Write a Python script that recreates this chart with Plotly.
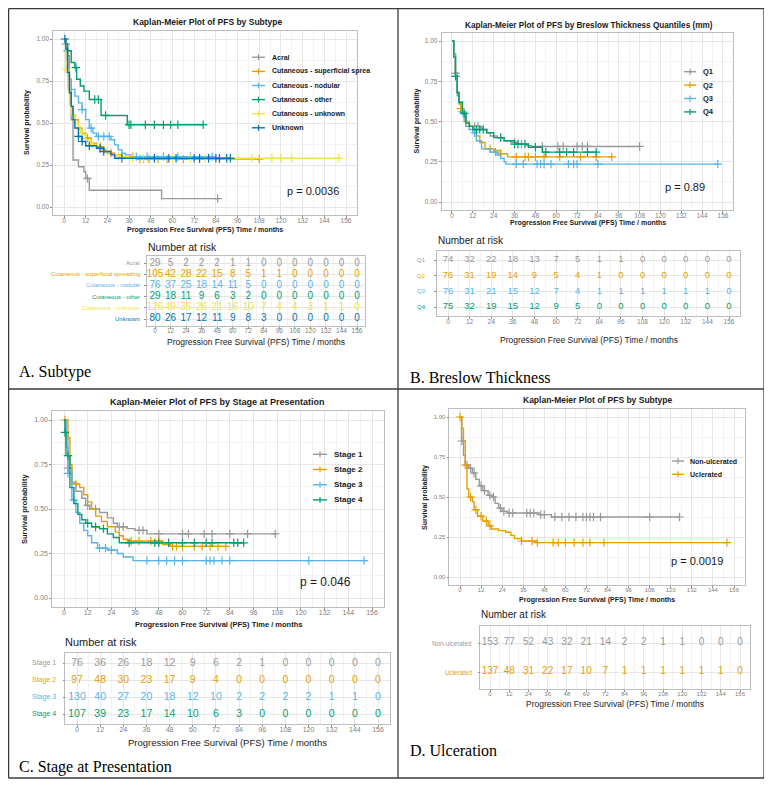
import numpy as np
import plotly.graph_objects as go

W, H = 772, 786
OFF = 8                      # page body margin of the browser
FW, FH = W - OFF, H - OFF
FONT = "Liberation Sans"
SERIF = "Liberation Serif"

GREY = "#999999"
ORANGE = "#E69F00"
SKY = "#56B4E9"
GREEN = "#009E73"
YELLOW = "#F0E442"
BLUE = "#0072B2"

risk_times = [0, 12, 24, 36, 48, 60, 72, 84, 96, 108, 120, 132, 144, 156]

# ---- A. Subtype
a_labels = ["Acral", "Cutaneous - superficial spreading", "Cutaneous - nodular",
            "Cutaneous - other", "Cutaneous - unknown", "Unknown"]
a_legend = ["Acral", "Cutaneous - superficial sprea", "Cutaneous - nodular",
            "Cutaneous - other", "Cutaneous - unknown", "Unknown"]
a_colors = [GREY, ORANGE, SKY, GREEN, YELLOW, BLUE]

acral_t = [0, 1, 2, 3, 4, 5, 8, 11, 12, 14, 54, 85]
acral_s = [1.0, 0.97, 0.90, 0.76, 0.52, 0.28, 0.24, 0.21, 0.17, 0.10, 0.05, 0.05]
acral_c = [1, 13, 85]
sup_t = [0, 1, 2, 3, 4, 5, 6, 8, 10, 12, 15, 18, 21, 24, 28, 32, 40, 108]
sup_s = [1.0, 0.92, 0.80, 0.68, 0.59, 0.55, 0.52, 0.47, 0.44, 0.41, 0.38, 0.36, 0.34, 0.32,
         0.31, 0.30, 0.285, 0.285]
sup_c = [6, 13, 20, 26, 38, 42, 44, 47, 52, 57, 66, 75, 86, 108]
nod_t = [0, 1, 2, 3, 6, 8, 10, 12, 14, 16, 18, 26, 28, 30, 32, 34, 38, 82]
nod_s = [1.0, 0.88, 0.78, 0.70, 0.66, 0.62, 0.58, 0.52, 0.47, 0.44, 0.42, 0.40, 0.37, 0.34,
         0.32, 0.31, 0.30, 0.30]
nod_c = [10, 15, 19, 22, 25, 40, 46, 55, 63, 70, 82]
oth_t = [0, 1, 2, 4, 6, 7, 9, 11, 14, 20.5, 35, 77]
oth_s = [1.0, 0.97, 0.93, 0.86, 0.83, 0.76, 0.72, 0.69, 0.64, 0.545, 0.49, 0.49]
oth_c = [2, 6.6, 17, 19, 23, 36, 37, 45, 50, 55, 59, 63, 77]
cun_t = [0, 1, 2, 3, 4, 6, 8, 10, 12, 15, 18, 22, 26, 30, 36, 152]
cun_s = [1.0, 0.82, 0.70, 0.61, 0.55, 0.50, 0.46, 0.43, 0.40, 0.37, 0.35, 0.33, 0.31, 0.30,
         0.29, 0.29]
cun_c = [1, 9, 16, 24, 30, 38, 44, 50, 60, 70, 78, 96, 104, 115, 120, 126, 152]
unk_t = [0, 1, 2, 3, 4, 5, 6, 8, 10, 12, 18, 22, 26, 28, 92]
unk_s = [1.0, 0.94, 0.80, 0.68, 0.60, 0.52, 0.47, 0.42, 0.39, 0.365, 0.35, 0.33, 0.31, 0.29, 0.29]
unk_c = [0.5, 8, 10, 14, 20, 22, 32, 50, 58, 62, 72, 75, 80, 84, 86, 90, 92]

a_risk_acral = [29, 5, 2, 2, 2, 1, 1, 0, 0, 0, 0, 0, 0, 0]
a_risk_sup = [105, 42, 28, 22, 15, 8, 5, 1, 1, 0, 0, 0, 0, 0]
a_risk_nod = [76, 37, 25, 18, 14, 11, 5, 0, 0, 0, 0, 0, 0, 0]
a_risk_oth = [29, 18, 11, 9, 6, 3, 2, 0, 0, 0, 0, 0, 0, 0]
a_risk_cun = [126, 49, 35, 26, 21, 16, 10, 7, 4, 4, 3, 1, 1, 0]
a_risk_unk = [80, 26, 17, 12, 11, 9, 8, 3, 0, 0, 0, 0, 0, 0]

# ---- B. Breslow thickness
b_labels = ["Q1", "Q2", "Q3", "Q4"]
b_colors = [GREY, ORANGE, SKY, GREEN]
q1_t = [0, 1, 2, 3, 4, 5, 7, 8, 16, 18, 20, 22, 26, 30, 34, 38, 42, 46, 108]
q1_s = [1.0, 0.92, 0.80, 0.66, 0.61, 0.56, 0.50, 0.47, 0.46, 0.45, 0.43, 0.41, 0.40, 0.38,
        0.37, 0.36, 0.35, 0.345, 0.345]
q1_c = [2, 10, 13, 15, 28, 36, 40, 52, 61, 64, 72, 75, 78, 108]
q2_t = [0, 1, 2, 3, 4, 5, 6, 8, 10, 12, 14, 16, 19, 24, 28, 32, 92]
q2_s = [1.0, 0.92, 0.80, 0.68, 0.61, 0.58, 0.55, 0.50, 0.47, 0.45, 0.41, 0.37, 0.33, 0.32,
        0.30, 0.28, 0.28]
q2_c = [5, 22, 28, 37, 42, 44, 48, 53, 62, 74, 83, 92]
q3_t = [0, 1, 2, 3, 4, 6, 8, 10, 12, 14, 17, 22, 26, 28, 30, 31, 153]
q3_s = [1.0, 0.92, 0.80, 0.68, 0.62, 0.56, 0.49, 0.45, 0.43, 0.38, 0.33, 0.31, 0.29, 0.27,
        0.25, 0.235, 0.235]
q3_c = [6, 13, 25, 37, 41, 49, 51, 53, 57, 67, 70, 72, 84, 153]
q4_t = [0, 1, 2, 3, 4, 6, 8, 10, 12, 20, 24, 30, 36, 44, 52, 83]
q4_s = [1.0, 0.90, 0.78, 0.68, 0.62, 0.55, 0.49, 0.47, 0.45, 0.43, 0.40, 0.38, 0.36, 0.34,
        0.31, 0.31]
q4_c = [2, 7, 14, 16, 18, 28, 36, 38, 42, 48, 54, 62, 66, 70, 78, 83]

b_risk_q1 = [74, 32, 22, 18, 13, 7, 5, 1, 1, 0, 0, 0, 0, 0]
b_risk_q2 = [76, 31, 19, 14, 9, 5, 4, 1, 0, 0, 0, 0, 0, 0]
b_risk_q3 = [76, 31, 21, 15, 12, 7, 4, 1, 1, 1, 1, 1, 1, 0]
b_risk_q4 = [75, 32, 19, 15, 12, 9, 5, 0, 0, 0, 0, 0, 0, 0]

# ---- C. Stage at presentation
c_labels = ["Stage 1", "Stage 2", "Stage 3", "Stage 4"]
c_colors = [GREY, ORANGE, SKY, GREEN]
s1_t = [0, 1, 2, 4, 6, 9, 11, 13, 18, 22, 25, 27, 32, 36, 42, 107]
s1_s = [1.0, 0.93, 0.73, 0.65, 0.60, 0.56, 0.52, 0.50, 0.48, 0.45, 0.42, 0.40, 0.39, 0.38,
        0.36, 0.36]
s1_c = [2, 12, 16, 28, 30, 38, 40, 48, 60, 63, 71, 75, 84, 93, 107]
s2_t = [0, 2, 3, 4, 8, 10, 12, 14, 16, 19, 22, 26, 28, 30, 32, 50, 54, 82]
s2_s = [1.0, 0.90, 0.75, 0.64, 0.62, 0.58, 0.54, 0.50, 0.46, 0.43, 0.40, 0.37, 0.35, 0.33,
        0.32, 0.30, 0.29, 0.29]
s2_c = [0.5, 6, 34, 38, 44, 48, 55, 57, 60, 66, 70, 74, 78, 82]
s3_t = [0, 1, 2, 4, 6, 8, 10, 12, 14, 17, 22, 27, 30, 35, 152]
s3_s = [1.0, 0.85, 0.70, 0.55, 0.48, 0.42, 0.38, 0.35, 0.31, 0.28, 0.27, 0.25, 0.23, 0.21, 0.21]
s3_c = [2, 5, 18, 21, 24, 42, 48, 52, 56, 60, 72, 74, 76, 80, 84, 124, 152]
s4_t = [0, 0.5, 1, 3, 5, 7, 9, 11, 14, 18, 22, 25, 28, 91]
s4_s = [1.0, 0.93, 0.80, 0.62, 0.53, 0.47, 0.44, 0.42, 0.40, 0.39, 0.36, 0.34, 0.31, 0.31]
s4_c = [0.5, 2, 12, 16, 20, 33, 46, 48, 53, 60, 66, 72, 75, 86, 88, 91]

c_risk_s1 = [76, 36, 26, 18, 12, 9, 6, 2, 1, 0, 0, 0, 0, 0]
c_risk_s2 = [97, 48, 30, 23, 17, 9, 4, 0, 0, 0, 0, 0, 0, 0]
c_risk_s3 = [130, 40, 27, 20, 18, 12, 10, 2, 2, 2, 2, 1, 1, 0]
c_risk_s4 = [107, 39, 23, 17, 14, 10, 6, 3, 0, 0, 0, 0, 0, 0]

# ---- D. Ulceration
d_labels = ["Non-ulcerated", "Uclerated"]
d_colors = [GREY, ORANGE]
nu_t = [0, 1, 2, 3, 5, 7, 9, 11, 13, 16, 18, 20, 22, 24, 27, 45, 52, 125]
nu_s = [1.0, 0.85, 0.76, 0.70, 0.68, 0.65, 0.61, 0.57, 0.54, 0.51, 0.50, 0.46, 0.43, 0.41,
        0.40, 0.39, 0.375, 0.375]
nu_c = [1, 4, 6, 8, 12, 14, 17, 19, 23, 25, 28, 30, 38, 40, 42, 46, 48, 54, 58, 62, 66, 70,
        72, 74, 76, 80, 108, 125]
ul_t = [0, 1, 2, 3, 4, 5, 7, 8, 10, 13, 16, 18, 22, 26, 29, 31, 35, 44, 152]
ul_s = [1.0, 0.93, 0.85, 0.70, 0.55, 0.50, 0.47, 0.42, 0.38, 0.35, 0.32, 0.30, 0.29, 0.28,
        0.26, 0.24, 0.225, 0.215, 0.215]
ul_c = [0, 3, 6, 9, 12, 15, 17, 35, 41, 44, 53, 56, 60, 65, 70, 74, 82, 152]

d_risk_nu = [153, 77, 52, 43, 32, 21, 14, 2, 2, 1, 1, 0, 0, 0]
d_risk_ul = [137, 48, 31, 22, 17, 10, 7, 1, 1, 1, 1, 1, 1, 0]

p_values = ["p = 0.0036", "p = 0.89", "p = 0.046", "p = 0.0019"]
titles = ["Kaplan-Meier Plot of PFS by Subtype",
          "Kaplan-Meier Plot of PFS by Breslow Thickness Quantiles (mm)",
          "Kaplan-Meier Plot of PFS by Stage at Presentation",
          "Kaplan-Meier Plot of PFS by Subtype"]
panel_names = ["A. Subtype", "B. Breslow Thickness", "C. Stage at Presentation", "D. Ulceration"]
x_title = "Progression Free Survival (PFS) Time / months"


# screen pixel -> paper fraction (the figure sits OFF px in from the page corner)
def px(x):
    return (x - OFF) / FW


def py(y):
    return 1 - (y - OFF) / FH


ann = []
shp = []


def text(s, x, y, size, color="#1A1A1A", bold=False, xanchor="center", family=FONT, angle=0):
    if bold:
        s = "<b>" + s + "</b>"
    ann.append(dict(text=s, x=px(x), y=py(y), xref="paper", yref="paper", xanchor=xanchor,
                    yanchor="middle", showarrow=False, textangle=angle,
                    font=dict(family=family, size=size, color=color)))


def seg(x0, y0, x1, y1, color, width):
    shp.append(dict(type="line", xref="paper", yref="paper", x0=px(x0), x1=px(x1),
                    y0=py(y0), y1=py(y1), line=dict(color=color, width=width)))


fig = go.Figure()
layout = {}

GRID = dict(showgrid=True, gridcolor="#E6E6E6", gridwidth=0.6, zeroline=False,
            showline=True, mirror=True, linecolor="#BDBDBD", linewidth=0.6,
            ticks="outside", ticklen=2, tickwidth=0.6, tickcolor="#8C8C8C")
MINOR = dict(showgrid=True, gridcolor="#F3F3F3", gridwidth=0.4)


def panel(k, curves, risks, labels, legend, colors, geo):
    ip, it = 2 * k + 1, 2 * k + 2
    sp_ = "" if ip == 1 else str(ip)
    xp, yp = "x" + sp_, "y" + sp_
    xt, yt = "x" + str(it), "y" + str(it)

    # survival plot
    x0, x156, y1, y0 = geo["plot"]
    u = (x156 - x0) / 156
    uy = y0 - y1
    tf = dict(family=FONT, size=geo["tick"], color="#808080")
    layout["xaxis" + sp_] = dict(
        GRID, domain=[px(x0 - 6 * u), px(x156 + 6 * u)], range=[-6, 162], anchor=yp,
        tick0=0, dtick=12, minor=dict(MINOR, dtick=6), tickfont=tf, ticklabelstandoff=-3)
    layout["yaxis" + sp_] = dict(
        GRID, domain=[py(y0 + 0.05 * uy), py(y1 - 0.05 * uy)], range=[-0.05, 1.05], anchor=xp,
        tick0=0, dtick=0.25, tickformat=".2f", minor=dict(MINOR, dtick=0.125), tickfont=tf)
    for (t, s, c), col in zip(curves, colors):
        fig.add_trace(go.Scatter(x=t, y=s, mode="lines", line=dict(color=col, width=1.4, shape="hv"),
                                 xaxis=xp, yaxis=yp, showlegend=False, hoverinfo="skip"))
        idx = np.searchsorted(t, c, side="right") - 1
        fig.add_trace(go.Scatter(x=c, y=np.asarray(s)[idx], mode="markers",
                                 marker=dict(symbol="cross-thin", size=6, line=dict(color=col, width=1.2)),
                                 xaxis=xp, yaxis=yp, showlegend=False, hoverinfo="skip"))

    cx, cy, ts = geo["title"]
    text(titles[k], cx, cy, ts, bold=True)
    text(x_title, (x0 + x156) / 2, geo["xtitle"], geo["axis"], bold=True)
    text("Survival probability", geo["ylab"], (y0 + y1) / 2, geo["axis"], bold=True, angle=-90)
    lx0, lx1, tx, ly, dy, ls = geo["legend"]
    for i, (lab, col) in enumerate(zip(legend, colors)):
        yy = ly + i * dy
        seg(lx0, yy, lx1, yy, col, 1.4)
        seg((lx0 + lx1) / 2, yy - 3, (lx0 + lx1) / 2, yy + 3, col, 1.2)
        text(lab, tx, yy, ls, bold=True, xanchor="left")
    text(p_values[k], geo["p"][0], geo["p"][1], geo["psize"])

    # risk table
    t0, t156 = geo["table_x"]
    r0, rl = geo["table_rows"]
    n = len(risks)
    ut = (t156 - t0) / 156
    sp = (rl - r0) / (n - 1)
    layout["xaxis" + str(it)] = dict(
        GRID, domain=[px(t0 - 6 * ut), px(t156 + 6 * ut)], range=[-6, 162], anchor=yt,
        tick0=0, dtick=12, minor=dict(MINOR, dtick=6), tickfont=tf, ticklabelstandoff=-3)
    layout["yaxis" + str(it)] = dict(
        GRID, domain=[py(rl + 0.6 * sp), py(r0 - 0.6 * sp)], range=[0.4, n + 0.6], anchor=xt,
        tickvals=list(range(1, n + 1)), ticktext=[""] * n)
    for i, (row, col) in enumerate(zip(risks, colors)):
        fig.add_trace(go.Scatter(x=risk_times, y=[n - i] * len(risk_times), mode="text",
                                 text=[str(v) for v in row],
                                 textfont=dict(family=FONT, size=geo["num"], color=col),
                                 xaxis=xt, yaxis=yt, showlegend=False, hoverinfo="skip"))
        text(labels[i], geo["rowlab"], r0 + i * sp, geo["rowsize"], color=col, xanchor="right")
    text("Number at risk", geo["nar"][0], geo["nar"][1], geo["nar"][2], xanchor="left")
    text(x_title, (t0 + t156) / 2, geo["ttitle"], geo["tsize"])
    text(panel_names[k], geo["plabel"][0], geo["plabel"][1], 16, color="#000000",
         xanchor="left", family=SERIF)


panel(0,
      [(acral_t, acral_s, acral_c), (sup_t, sup_s, sup_c), (nod_t, nod_s, nod_c),
       (oth_t, oth_s, oth_c), (cun_t, cun_s, cun_c), (unk_t, unk_s, unk_c)],
      [a_risk_acral, a_risk_sup, a_risk_nod, a_risk_oth, a_risk_cun, a_risk_unk],
      a_labels, a_legend, a_colors,
      dict(plot=(64, 346, 39, 207), title=(208, 22, 8.5), xtitle=230, ylab=27, axis=7, tick=6.5,
           legend=(252, 265, 270, 57.3, 14.1, 7), p=(313, 191), psize=11,
           table_x=(155, 357), table_rows=(263, 319), num=10, rowlab=142, rowsize=6,
           nar=(146, 247, 10.5), ttitle=342, tsize=8.5, plabel=(17, 372)))

panel(1,
      [(q1_t, q1_s, q1_c), (q2_t, q2_s, q2_c), (q3_t, q3_s, q3_c), (q4_t, q4_s, q4_c)],
      [b_risk_q1, b_risk_q2, b_risk_q3, b_risk_q4],
      b_labels, b_labels, b_colors,
      dict(plot=(452, 723, 41, 202), title=(589, 25, 8.2), xtitle=223, ylab=416, axis=7, tick=6.5,
           legend=(684, 696, 701, 71.7, 13.4, 7.5), p=(685, 187), psize=11,
           table_x=(448, 729), table_rows=(260, 307), num=9.5, rowlab=428, rowsize=6,
           nar=(436, 240, 10), ttitle=340, tsize=8.5, plabel=(408, 378)))

panel(2,
      [(s1_t, s1_s, s1_c), (s2_t, s2_s, s2_c), (s3_t, s3_s, s3_c), (s4_t, s4_s, s4_c)],
      [c_risk_s1, c_risk_s2, c_risk_s3, c_risk_s4],
      c_labels, c_labels, c_colors,
      dict(plot=(64, 372, 420, 598), title=(217, 402, 9), xtitle=624, ylab=24, axis=7.5, tick=7,
           legend=(313, 327, 332, 454.3, 15.2, 8), p=(325, 582), psize=12,
           table_x=(77, 378), table_rows=(663, 714), num=10.5, rowlab=58, rowsize=7,
           nar=(63, 642, 11), ttitle=742, tsize=9.5, plabel=(17, 767)))

panel(3,
      [(nu_t, nu_s, nu_c), (ul_t, ul_s, ul_c)],
      [d_risk_nu, d_risk_ul],
      d_labels, d_labels, d_colors,
      dict(plot=(460, 734, 417, 577), title=(598, 400, 8.5), xtitle=600, ylab=425, axis=7, tick=6,
           legend=(672, 684, 688, 461, 13.3, 7), p=(697, 561), psize=11,
           table_x=(490, 740), table_rows=(643, 672), num=10, rowlab=474, rowsize=6.3,
           nar=(479, 614, 10), ttitle=704, tsize=8.5, plabel=(408, 750)))

# outer frame and dividers
for a, b, c, d in [(8.6, 8.6, 764, 8.6), (8.6, 778, 764, 778), (8.6, 8.6, 8.6, 778),
                   (764, 8.6, 764, 778), (398, 8.6, 398, 778), (8.6, 389, 764, 389)]:
    seg(a, b, c, d, "#3A3A3A", 1.3)

fig.update_layout(
    width=FW, height=FH, margin=dict(l=0, r=0, t=0, b=0),
    paper_bgcolor="white", plot_bgcolor="white", showlegend=False,
    annotations=ann, shapes=shp, **layout)

fig.write_html("out.html")
